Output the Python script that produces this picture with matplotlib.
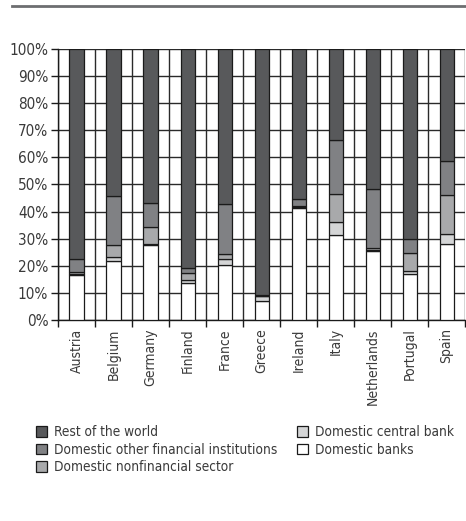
import numpy as np
import matplotlib
matplotlib.use("Agg")
import matplotlib.pyplot as plt

plt.rcParams["font.family"] = ["DejaVu Sans"]
plt.rcParams["font.stretch"] = "condensed"

countries = ["Austria", "Belgium", "Germany", "Finland", "France", "Greece",
             "Ireland", "Italy", "Netherlands", "Portugal", "Spain"]

# shares in percent
domestic_banks = [16.5, 21.8, 27.8, 13.8, 20.3, 7.0, 41.4, 31.2, 25.4, 16.9, 28.0]
domestic_central_bank = [0.5, 1.4, 0.4, 1.0, 2.1, 1.8, 0.2, 5.0, 0.5, 1.0, 3.9]
domestic_nonfinancial = [0.7, 4.5, 6.2, 2.4, 2.0, 0.2, 0.3, 10.2, 0.7, 7.0, 14.1]
domestic_other_fin = [4.9, 18.1, 8.9, 1.9, 18.5, 0.2, 2.8, 19.9, 21.6, 5.0, 12.6]
rest_of_world = [77.4, 54.2, 56.7, 80.9, 57.1, 90.8, 55.3, 33.7, 51.8, 70.1, 41.4]

series = [
    ("Domestic banks", domestic_banks, "#ffffff"),
    ("Domestic central bank", domestic_central_bank, "#d4d5d6"),
    ("Domestic nonfinancial sector", domestic_nonfinancial, "#a8a9ab"),
    ("Domestic other financial institutions", domestic_other_fin, "#808184"),
    ("Rest of the world", rest_of_world, "#58595b"),
]

text_col = "#3a3a3a"
fig = plt.figure(figsize=(4.66, 5.21), dpi=100)
ax = fig.add_axes([0.1245, 0.3858, 0.8735, 0.5202])

x = np.arange(len(countries)) + 0.5
bottom = np.zeros(len(countries))
handles = {}
for name, vals, col in series:
    vals = np.array(vals)
    b = ax.bar(x, vals, 0.38, bottom=bottom, color=col, edgecolor="#1a1a1a",
               linewidth=0.9, zorder=3, label=name)
    handles[name] = b
    bottom += vals

ax.set_xlim(0, len(countries))
ax.set_ylim(0, 100)

# category labels on major ticks, separators on minor ticks
ax.set_xticks(x)
ax.set_xticklabels(countries, rotation=90, fontsize=10, color=text_col)
ax.tick_params(axis="x", which="major", length=0, pad=6)
ax.set_xticks(np.arange(len(countries) + 1), minor=True)
ax.tick_params(axis="x", which="minor", length=5, width=1, color="#1a1a1a", direction="out")
ax.grid(axis="x", which="minor", color="#2a2a2a", linewidth=1, zorder=0)

ax.set_yticks(np.arange(0, 101, 10))
ax.set_yticklabels([f"{v}%" for v in range(0, 101, 10)], fontsize=11, color=text_col)
ax.tick_params(axis="y", length=5, width=1, color="#1a1a1a", pad=2)
ax.grid(axis="y", color="#2a2a2a", linewidth=1, zorder=0)

for s in ["top", "right"]:
    ax.spines[s].set_visible(False)
for s in ["left", "bottom"]:
    ax.spines[s].set_color("#1a1a1a")
    ax.spines[s].set_linewidth(1)

# rule across the top of the figure
fig.add_artist(plt.Line2D([12 / 466, 465 / 466], [1 - 6 / 521, 1 - 6 / 521],
                          color="#6d6e70", linewidth=2))

order = ["Rest of the world", "Domestic other financial institutions",
         "Domestic nonfinancial sector", "Domestic central bank", "Domestic banks"]
leg = fig.legend([handles[n] for n in order], order, ncol=2,
                 loc="upper left", bbox_to_anchor=(24 / 466, 1 - 413 / 521),
                 frameon=False, fontsize=9.8, handlelength=0.8, handleheight=0.8,
                 handletextpad=0.5, columnspacing=1.45, labelspacing=0.25)
for t in leg.get_texts():
    t.set_color(text_col)

fig.savefig("out.png", dpi=100)
